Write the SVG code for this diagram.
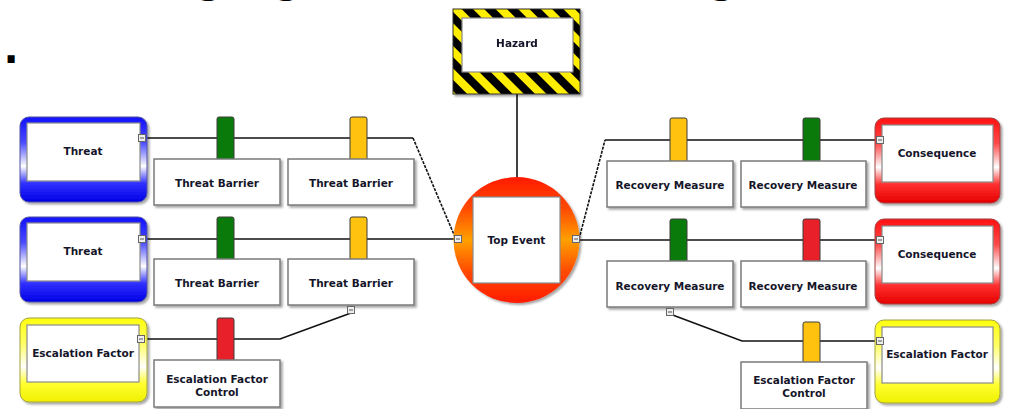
<svg xmlns="http://www.w3.org/2000/svg" width="1012" height="409" viewBox="0 0 1012 409">
<style>
text{font-family:"DejaVu Sans","Liberation Sans",sans-serif;font-weight:bold;font-size:10.5px;fill:#15152a;text-anchor:middle}
.big{font-size:40px;fill:#000}
.box{fill:#fff;stroke:#7a7a7a;stroke-width:1.5}
.inner{fill:#fff;stroke:#8a8a8a;stroke-width:1.2}
.ln{fill:none;stroke:#111;stroke-width:1.6}
.dl{fill:none;stroke:#111;stroke-width:1.6;stroke-dasharray:3 1.2}
.bar{stroke:#3d3d3d;stroke-width:1}
.g{fill:#0a7a0a}.y{fill:#ffc20e}.r{fill:#e8202a}
.sq{fill:#eee;stroke:#666;stroke-width:1}
.sqm{stroke:#555;stroke-width:1}
</style>
<defs>
<filter id="sh" x="-10%" y="-10%" width="130%" height="130%"><feDropShadow dx="2" dy="2" stdDeviation="1" flood-color="#000" flood-opacity="0.35"/></filter>
<linearGradient id="gb" x1="0" y1="0" x2="0" y2="1"><stop offset="0" stop-color="#1010ff"/><stop offset="0.3" stop-color="#4a4aff"/><stop offset="0.58" stop-color="#ffffff"/><stop offset="0.78" stop-color="#3030ff"/><stop offset="1" stop-color="#0000e6"/></linearGradient>
<linearGradient id="gr" x1="0" y1="0" x2="0" y2="1"><stop offset="0" stop-color="#ff1010"/><stop offset="0.3" stop-color="#ff4a4a"/><stop offset="0.58" stop-color="#ffffff"/><stop offset="0.78" stop-color="#ff3030"/><stop offset="1" stop-color="#e60000"/></linearGradient>
<linearGradient id="gy" x1="0" y1="0" x2="0" y2="1"><stop offset="0" stop-color="#ffff10"/><stop offset="0.3" stop-color="#ffff60"/><stop offset="0.58" stop-color="#ffffff"/><stop offset="0.78" stop-color="#ffff30"/><stop offset="1" stop-color="#f0f000"/></linearGradient>
<linearGradient id="gt" x1="0" y1="0" x2="0" y2="1"><stop offset="0" stop-color="#ff1a00"/><stop offset="0.25" stop-color="#ff4a00"/><stop offset="0.5" stop-color="#ffa000"/><stop offset="0.75" stop-color="#ff4a00"/><stop offset="1" stop-color="#ff1a00"/></linearGradient>
<pattern id="hz" width="16" height="16" patternUnits="userSpaceOnUse" patternTransform="rotate(-45)"><rect width="16" height="16" fill="#ffee00"/><rect width="8" height="16" fill="#000"/></pattern>
</defs>
<rect width="1012" height="409" fill="#fff"/>
<g id="fragments">
<text class="big" x="210" y="-8">g</text>
<text class="big" x="288" y="-8">g</text>
<text class="big" x="723" y="-8">g</text>
<text class="big" x="11" y="63">.</text>
</g>
<g id="connectors">
<line class="ln" x1="517" y1="94" x2="517" y2="178"/>
<polyline class="ln" points="147,138 413,138"/>
<line class="dl" x1="413" y1="138" x2="455" y2="237"/>
<polyline class="ln" points="147,239 455,239"/>
<polyline class="ln" points="147,339 280,339 351,313"/>
<line class="dl" x1="579" y1="239" x2="605" y2="140"/>
<polyline class="ln" points="605,140 877,140"/>
<polyline class="ln" points="579,240 877,240"/>
<polyline class="ln" points="670,314 742,341 877,341"/>
</g>
<g id="hazard" filter="url(#sh)">
<rect x="453" y="9" width="127" height="85" fill="url(#hz)" stroke="#333" stroke-width="1"/>
<rect class="inner" x="462" y="18" width="111" height="54"/>
<text x="517" y="47">Hazard</text>
</g>
<g id="top-event">
<circle cx="516.5" cy="240" r="63" fill="url(#gt)" filter="url(#sh)"/>
<rect class="inner" x="473" y="197" width="87" height="86"/>
<text x="516.5" y="244">Top Event</text>
<rect class="sq" x="454.5" y="235.5" width="7" height="7"/><line class="sqm" x1="456" y1="239" x2="460" y2="239"/>
<rect class="sq" x="572.5" y="235.5" width="7" height="7"/><line class="sqm" x1="574" y1="239" x2="578" y2="239"/>
</g>
<g id="threat1">
<rect x="20" y="117" width="127" height="85" rx="9" fill="url(#gb)" stroke="#5050a0" stroke-width="1" filter="url(#sh)"/>
<rect class="inner" x="27" y="123" width="113" height="58"/>
<text x="83" y="155">Threat</text>
<rect class="sq" x="138.5" y="134.5" width="7" height="7"/><line class="sqm" x1="140" y1="138" x2="144" y2="138"/>
</g>
<g id="threat2">
<rect x="20" y="217" width="127" height="85" rx="9" fill="url(#gb)" stroke="#5050a0" stroke-width="1" filter="url(#sh)"/>
<rect class="inner" x="27" y="223" width="113" height="58"/>
<text x="83" y="255">Threat</text>
<rect class="sq" x="138.5" y="235.5" width="7" height="7"/><line class="sqm" x1="140" y1="239" x2="144" y2="239"/>
</g>
<g id="escalation-left">
<rect x="20" y="318" width="127" height="84" rx="9" fill="url(#gy)" stroke="#a0a040" stroke-width="1" filter="url(#sh)"/>
<rect class="inner" x="27" y="325" width="112" height="57"/>
<text x="83" y="357">Escalation Factor</text>
<rect class="sq" x="137.5" y="335.5" width="7" height="7"/><line class="sqm" x1="139" y1="339" x2="143" y2="339"/>
</g>
<g id="tb1"><rect class="bar g" x="217" y="117" width="17" height="44" rx="2"/><rect class="box" x="154" y="159" width="126" height="46" filter="url(#sh)"/><text x="217" y="187">Threat Barrier</text></g>
<g id="tb2"><rect class="bar y" x="350" y="117" width="17" height="44" rx="2"/><rect class="box" x="288" y="159" width="126" height="46" filter="url(#sh)"/><text x="351" y="187">Threat Barrier</text></g>
<g id="tb3"><rect class="bar g" x="217" y="217" width="17" height="44" rx="2"/><rect class="box" x="154" y="259" width="126" height="46" filter="url(#sh)"/><text x="217" y="287">Threat Barrier</text></g>
<g id="tb4"><rect class="bar y" x="350" y="217" width="17" height="44" rx="2"/><rect class="box" x="288" y="259" width="126" height="46" filter="url(#sh)"/><text x="351" y="287">Threat Barrier</text>
<rect class="sq" x="347.5" y="306.5" width="7" height="7"/><line class="sqm" x1="349" y1="310" x2="353" y2="310"/></g>
<g id="efc-left"><rect class="bar r" x="217" y="318" width="17" height="44" rx="2"/><rect class="box" x="154" y="360" width="126" height="47" filter="url(#sh)"/><text x="217" y="383">Escalation Factor</text><text x="217" y="396">Control</text></g>
<g id="rm1"><rect class="bar y" x="670" y="118" width="17" height="44" rx="2"/><rect class="box" x="607" y="161" width="126" height="46" filter="url(#sh)"/><text x="670" y="189">Recovery Measure</text></g>
<g id="rm2"><rect class="bar g" x="803" y="118" width="17" height="44" rx="2"/><rect class="box" x="741" y="161" width="125" height="46" filter="url(#sh)"/><text x="803" y="189">Recovery Measure</text></g>
<g id="rm3"><rect class="bar g" x="670" y="219" width="17" height="44" rx="2"/><rect class="box" x="607" y="261" width="126" height="46" filter="url(#sh)"/><text x="670" y="290">Recovery Measure</text>
<rect class="sq" x="666.5" y="308.5" width="7" height="7"/><line class="sqm" x1="668" y1="312" x2="672" y2="312"/></g>
<g id="rm4"><rect class="bar r" x="803" y="219" width="17" height="44" rx="2"/><rect class="box" x="741" y="261" width="125" height="46" filter="url(#sh)"/><text x="803" y="290">Recovery Measure</text></g>
<g id="efc-right"><rect class="bar y" x="803" y="322" width="17" height="42" rx="2"/><rect class="box" x="741" y="362" width="126" height="47" filter="url(#sh)"/><text x="804" y="384">Escalation Factor</text><text x="804" y="397">Control</text></g>
<g id="consequence1">
<rect x="875" y="118" width="125" height="85" rx="9" fill="url(#gr)" stroke="#a04040" stroke-width="1" filter="url(#sh)"/>
<rect class="inner" x="882" y="125" width="111" height="57"/>
<text x="937" y="157">Consequence</text>
<rect class="sq" x="876.5" y="136.5" width="7" height="7"/><line class="sqm" x1="878" y1="140" x2="882" y2="140"/>
</g>
<g id="consequence2">
<rect x="875" y="219" width="125" height="85" rx="9" fill="url(#gr)" stroke="#a04040" stroke-width="1" filter="url(#sh)"/>
<rect class="inner" x="882" y="226" width="111" height="57"/>
<text x="937" y="258">Consequence</text>
<rect class="sq" x="876.5" y="236.5" width="7" height="7"/><line class="sqm" x1="878" y1="240" x2="882" y2="240"/>
</g>
<g id="escalation-right">
<rect x="875" y="320" width="125" height="83" rx="9" fill="url(#gy)" stroke="#a0a040" stroke-width="1" filter="url(#sh)"/>
<rect class="inner" x="882" y="327" width="111" height="56"/>
<text x="937" y="358">Escalation Factor</text>
<rect class="sq" x="876.5" y="337.5" width="7" height="7"/><line class="sqm" x1="878" y1="341" x2="882" y2="341"/>
</g>
</svg>
